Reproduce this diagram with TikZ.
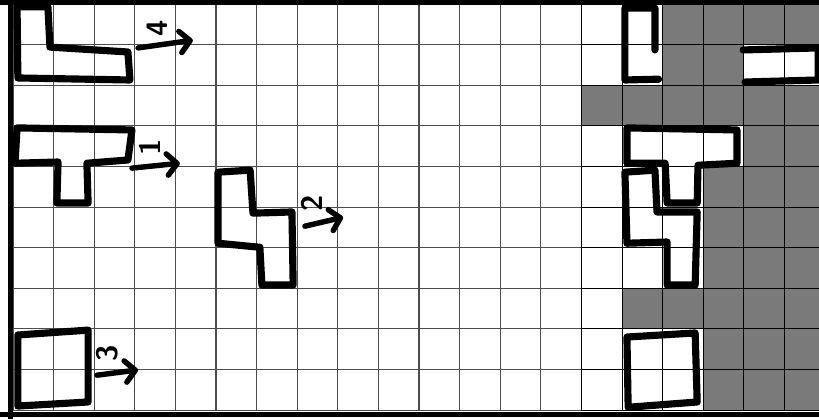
\documentclass[tikz,border=0pt]{standalone}
\usetikzlibrary{arrows.meta}
\begin{document}
\begin{tikzpicture}[
  gridline/.style={draw=black!70, line width=0.8pt},
  frame/.style={draw=black, line width=4pt},
  blocked/.style={fill=black!52},
  piece/.style={draw=black, line width=5pt, line join=round, line cap=round},
  push/.style={draw=black, line width=3.8pt, line cap=round,
               -{Straight Barb[round, length=7pt, width=15pt]}},
  num/.style={font=\sffamily\bfseries\huge, rotate=90, inner sep=0pt}
]
\clip (-0.32,-0.22) rectangle (19.85,10.10);
\fill[white] (-0.32,-0.22) rectangle (19.85,10.10);

\fill[blocked] (15,0) rectangle (20,10) (14,7) rectangle (15,8);
\fill[white] (15,8) rectangle (16,10) (18,8) rectangle (20,9)
  (15,6) rectangle (18,7) (15,3) rectangle (17,6) (15,0) rectangle (17,2);
\draw[gridline] (0,0) grid (20,10);
\draw[gridline, draw=black] (14,0) grid (20,10);

\draw[frame] (-0.32,10.05) -- (19.85,10.05);
\draw[frame] (-0.06,-0.22) -- (-0.06,10.10);
\draw[frame] (-0.32,-0.11) -- (19.85,-0.11);

% pieces at the start
\draw[piece] (0.10,9.93) -- (0.86,9.93) -- (0.91,8.94) -- (2.83,8.82)
  -- (2.88,8.13) -- (0.12,8.18) -- cycle;
\draw[piece] (0.10,6.95) -- (2.93,6.90) -- (2.83,6.16) -- (1.82,6.08)
  -- (1.85,5.10) -- (1.08,5.10) -- (1.11,6.11) -- (0.05,6.08) -- cycle;
\draw[piece] (5.05,5.86) -- (5.84,5.91) -- (5.91,4.85) -- (6.87,4.88)
  -- (6.90,3.08) -- (6.13,3.08) -- (6.08,4.01) -- (5.05,4.11) -- cycle;
\draw[piece] (0.12,1.85) -- (1.85,1.97) -- (1.85,0.20) -- (0.12,0.10) -- cycle;

% pieces after the move
\draw[piece] (15.81,8.87) -- (15.81,9.90) -- (15.07,9.90) -- (15.07,8.13)
  -- (15.90,8.15);
\draw[piece] (17.98,8.87) -- (19.83,8.92) -- (19.83,8.13) -- (18.03,8.08);
\draw[piece] (15.12,6.95) -- (17.83,6.90) -- (17.83,6.08) -- (16.87,6.03)
  -- (16.85,5.10) -- (16.11,5.10) -- (16.06,6.08) -- (15.12,6.08) -- cycle;
\draw[piece] (15.07,5.86) -- (15.81,5.91) -- (15.86,4.88) -- (16.85,4.88)
  -- (16.80,3.08) -- (16.11,3.08) -- (16.11,4.14) -- (15.12,4.11) -- cycle;
\draw[piece] (15.12,1.80) -- (16.80,1.90) -- (16.85,0.20) -- (15.15,0.07) -- cycle;

% moves
\coordinate (s4) at (3.08,8.92);
\coordinate (e4) at (4.43,9.11);
\coordinate (s1) at (2.93,5.96);
\coordinate (e1) at (4.11,6.08);
\coordinate (s2) at (7.19,4.53);
\coordinate (e2) at (8.13,4.75);
\coordinate (s3) at (2.07,0.86);
\coordinate (e3) at (3.08,0.99);
\draw[push] (s4) -- (e4);
\draw[push] (s1) -- (e1);
\draw[push] (s2) -- (e2);
\draw[push] (s3) -- (e3);

\node[num] (n4) at (3.55,9.41) {4};
\node[num] (n1) at (3.37,6.48) {1};
\node[num] (n2) at (7.36,5.10) {2};
\node[num] (n3) at (2.32,1.40) {3};
\end{tikzpicture}
\end{document}
